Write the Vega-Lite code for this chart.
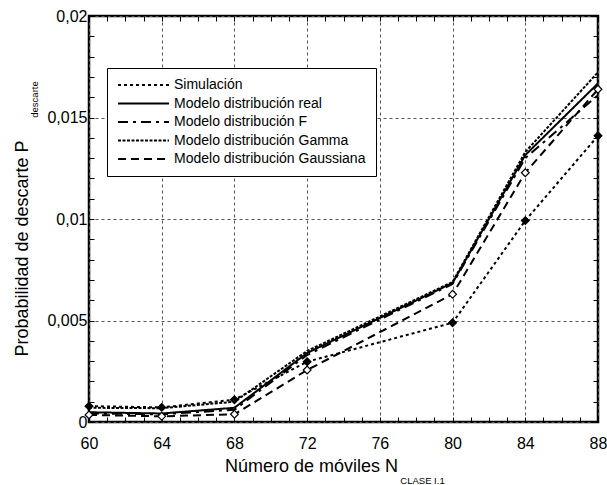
{
  "$schema": "https://vega.github.io/schema/vega-lite/v6.json",
  "width": 509,
  "height": 406,
  "autosize": "none",
  "padding": {"left": 89, "top": 16, "right": 9, "bottom": 63},
  "background": "white",
  "config": {
    "font": "Liberation Sans",
    "view": {"stroke": "black", "strokeWidth": 2.5},
    "axis": {"labelFont": "Liberation Sans", "titleFont": "Liberation Sans", "labelColor": "black", "titleColor": "black", "titleFontWeight": "normal"}
  },
  "data": {
    "values": [
      {"n": 60, "p": 0.00078, "serie": "Simulación"},
      {"n": 64, "p": 0.00072, "serie": "Simulación"},
      {"n": 68, "p": 0.0011, "serie": "Simulación"},
      {"n": 72, "p": 0.00297, "serie": "Simulación"},
      {"n": 80, "p": 0.00489, "serie": "Simulación"},
      {"n": 84, "p": 0.00992, "serie": "Simulación"},
      {"n": 88, "p": 0.0141, "serie": "Simulación"},
      {"n": 60, "p": 0.00048, "serie": "Modelo distribución real"},
      {"n": 64, "p": 0.00042, "serie": "Modelo distribución real"},
      {"n": 68, "p": 0.0007, "serie": "Modelo distribución real"},
      {"n": 72, "p": 0.0034, "serie": "Modelo distribución real"},
      {"n": 80, "p": 0.00685, "serie": "Modelo distribución real"},
      {"n": 84, "p": 0.01315, "serie": "Modelo distribución real"},
      {"n": 88, "p": 0.01668, "serie": "Modelo distribución real"},
      {"n": 60, "p": 0.00042, "serie": "Modelo distribución F"},
      {"n": 64, "p": 0.00038, "serie": "Modelo distribución F"},
      {"n": 68, "p": 0.0006, "serie": "Modelo distribución F"},
      {"n": 72, "p": 0.0033, "serie": "Modelo distribución F"},
      {"n": 80, "p": 0.0068, "serie": "Modelo distribución F"},
      {"n": 84, "p": 0.013, "serie": "Modelo distribución F"},
      {"n": 88, "p": 0.0161, "serie": "Modelo distribución F"},
      {"n": 60, "p": 0.0007, "serie": "Modelo distribución Gamma"},
      {"n": 64, "p": 0.00068, "serie": "Modelo distribución Gamma"},
      {"n": 68, "p": 0.001, "serie": "Modelo distribución Gamma"},
      {"n": 72, "p": 0.0035, "serie": "Modelo distribución Gamma"},
      {"n": 80, "p": 0.0069, "serie": "Modelo distribución Gamma"},
      {"n": 84, "p": 0.0133, "serie": "Modelo distribución Gamma"},
      {"n": 88, "p": 0.01723, "serie": "Modelo distribución Gamma"},
      {"n": 60, "p": 0.00035, "serie": "Modelo distribución Gaussiana"},
      {"n": 64, "p": 0.00028, "serie": "Modelo distribución Gaussiana"},
      {"n": 68, "p": 0.00038, "serie": "Modelo distribución Gaussiana"},
      {"n": 72, "p": 0.00256, "serie": "Modelo distribución Gaussiana"},
      {"n": 80, "p": 0.00629, "serie": "Modelo distribución Gaussiana"},
      {"n": 84, "p": 0.01228, "serie": "Modelo distribución Gaussiana"},
      {"n": 88, "p": 0.01639, "serie": "Modelo distribución Gaussiana"}
    ]
  },
  "resolve": {"axis": {"x": "independent", "y": "independent"}},
  "layer": [
    {
      "mark": {"type": "line", "color": "black", "strokeWidth": 2, "strokeCap": "butt", "clip": false},
      "encoding": {
        "x": {
          "field": "n", "type": "quantitative",
          "scale": {"domain": [60, 88], "nice": false, "zero": false},
          "axis": {
            "orient": "bottom",
            "values": [60,61,62,63,64,65,66,67,68,69,70,71,72,73,74,75,76,77,78,79,80,81,82,83,84,85,86,87,88],
            "labelExpr": "datum.value % 4 == 0 ? datum.label : ''",
            "labelFontSize": 16,
            "labelPadding": 18,
            "labelFlush": false,
            "labelOverlap": false,
            "domain": false,
            "tickSize": -5,
            "tickColor": "black",
            "tickWidth": 1,
            "grid": true,
            "gridColor": "#555",
            "gridDash": [3, 3],
            "gridWidth": 1,
            "gridOpacity": {"condition": {"test": "datum.value % 4 == 0", "value": 1}, "value": 0},
            "title": "Número de móviles N",
            "titleFontSize": 18,
            "titleX": 222,
            "titleY": 49,
            "titleBaseline": "alphabetic"
          }
        },
        "y": {
          "field": "p", "type": "quantitative",
          "scale": {"domain": [0, 0.02], "nice": false},
          "axis": {
            "orient": "left",
            "values": [0,0.001,0.002,0.003,0.004,0.005,0.006,0.007,0.008,0.009,0.01,0.011,0.012,0.013,0.014,0.015,0.016,0.017,0.018,0.019,0.02],
            "labelExpr": "abs(datum.value*200 - round(datum.value*200)) < 0.000001 ? (datum.value == 0 ? '0' : replace(format(datum.value, '.3~f'), '.', ',')) : ''",
            "labelFontSize": 16,
            "labelPadding": 7,
            "labelFlush": false,
            "labelOverlap": false,
            "domain": false,
            "tickSize": -5,
            "tickColor": "black",
            "tickWidth": 1,
            "grid": true,
            "gridColor": "#555",
            "gridDash": [3, 3],
            "gridWidth": 1,
            "gridOpacity": {"condition": {"test": "abs(datum.value*200 - round(datum.value*200)) < 0.000001", "value": 1}, "value": 0},
            "title": "Probabilidad de descarte P",
            "titleFontSize": 18,
            "titleAngle": 270,
            "titleX": -62,
            "titleY": 232,
            "titleBaseline": "alphabetic"
          }
        },
        "strokeDash": {
          "field": "serie", "type": "nominal",
          "scale": {
            "domain": ["Simulación", "Modelo distribución real", "Modelo distribución F", "Modelo distribución Gamma", "Modelo distribución Gaussiana"],
            "range": [[3, 3], [1, 0], [10, 5, 3, 5], [3, 1.5], [8, 5]]
          },
          "legend": {
            "orient": "none",
            "legendX": 18,
            "legendY": 52,
            "title": null,
            "fillColor": "white",
            "strokeColor": "black",
            "padding": 10,
            "symbolType": "M-1.2,0H9",
            "symbolSize": 100,
            "symbolStrokeWidth": 2,
            "symbolStrokeColor": "black",
            "symbolFillColor": "transparent",
            "labelFontSize": 14,
            "labelFont": "Liberation Sans",
            "labelColor": "black",
            "labelOffset": 43,
            "rowPadding": 4.5,
            "labelLimit": 300
          }
        },
        "detail": {"field": "serie"}
      }
    },
    {
      "transform": [{"filter": "datum.serie == 'Simulación' || datum.serie == 'Modelo distribución Gaussiana'"}],
      "mark": {"type": "point", "shape": "diamond", "size": 60, "stroke": "black", "strokeWidth": 1.2, "opacity": 1, "filled": false, "clip": false},
      "encoding": {
        "x": {
          "field": "n", "type": "quantitative",
          "scale": {"domain": [60, 88], "nice": false, "zero": false},
          "axis": {
            "orient": "top",
            "values": [60,61,62,63,64,65,66,67,68,69,70,71,72,73,74,75,76,77,78,79,80,81,82,83,84,85,86,87,88],
            "labels": false,
            "domain": false,
            "grid": false,
            "tickSize": -5,
            "tickColor": "black",
            "title": "CLASE I.1",
            "titleFontSize": 9.5,
            "titleX": 333,
            "titleY": 467,
            "titleBaseline": "alphabetic"
          }
        },
        "y": {
          "field": "p", "type": "quantitative",
          "scale": {"domain": [0, 0.02], "nice": false},
          "axis": {
            "orient": "right",
            "values": [0,0.001,0.002,0.003,0.004,0.005,0.006,0.007,0.008,0.009,0.01,0.011,0.012,0.013,0.014,0.015,0.016,0.017,0.018,0.019,0.02],
            "labels": false,
            "domain": false,
            "grid": false,
            "tickSize": -5,
            "tickColor": "black",
            "title": "descarte",
            "titleFontSize": 9.5,
            "titleAngle": 270,
            "titleX": -561,
            "titleY": 83,
            "titleBaseline": "alphabetic"
          }
        },
        "fill": {
          "field": "serie", "type": "nominal",
          "scale": {"domain": ["Simulación", "Modelo distribución Gaussiana"], "range": ["black", "white"]},
          "legend": null
        }
      }
    }
  ]
}
